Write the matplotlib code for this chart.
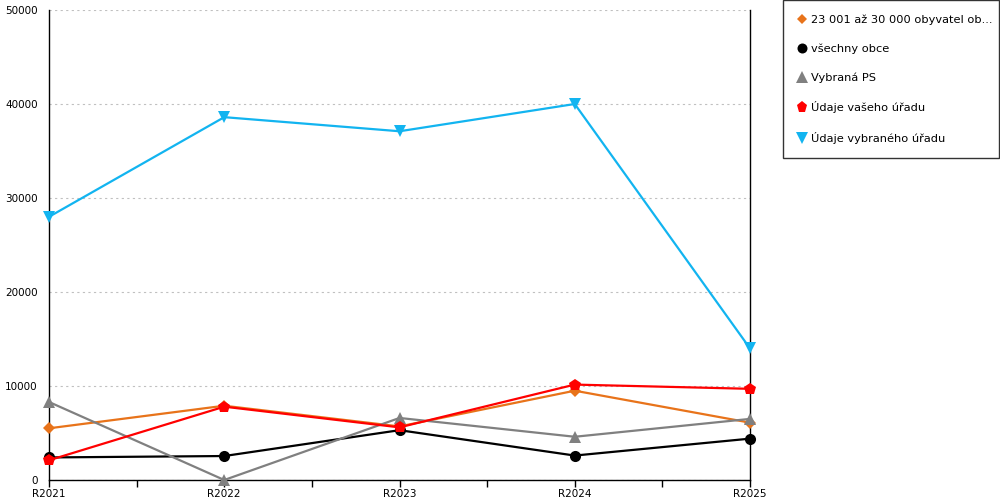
import matplotlib
matplotlib.use("Agg")
import matplotlib.pyplot as plt
from matplotlib.lines import Line2D

categories = ["R2021", "R2022", "R2023", "R2024", "R2025"]
orange_vals = [5500, 7900, 5700, 9500, 6100]
all_vals = [2400, 2550, 5300, 2600, 4400]
ps_vals = [8300, 0, 6600, 4600, 6500]
your_vals = [2100, 7800, 5600, 10150, 9700]
sel_vals = [28000, 38600, 37100, 40000, 14000]

series = [
    ("23 001 až 30 000 obyvatel ob...", orange_vals, "#e8731a", "D", 6),
    ("všechny obce", all_vals, "#000000", "o", 8),
    ("Vybraná PS", ps_vals, "#808080", "^", 9),
    ("Údaje vašeho úřadu", your_vals, "#ff0000", "p", 9),
    ("Údaje vybraného úřadu", sel_vals, "#12b4f0", "v", 9),
]

plt.rcParams['font.family'] = ['DejaVu Sans']
fig = plt.figure(figsize=(10, 5), dpi=100)
ax = fig.add_axes([0.049, 0.04, 0.701, 0.94])

x = list(range(len(categories)))
handles = []
for label, vals, color, marker, ms in series:
    ax.plot(x, vals, color=color, lw=1.6, marker=marker, markersize=ms,
            markeredgewidth=0, zorder=3, clip_on=False)
    handles.append(Line2D([], [], color=color, marker=marker, linestyle="none",
                          markersize=ms * 0.9, markeredgewidth=0, label=label))

ax.set_xlim(0, 4)
ax.set_ylim(0, 50000)
ax.set_yticks(range(0, 50001, 10000))
ax.set_yticklabels([str(v) for v in range(0, 50001, 10000)], fontsize=7.5)
ax.set_xticks(x)
ax.set_xticklabels(categories, fontsize=7.5)
ax.set_xticks([0.5, 1.5, 2.5, 3.5], minor=True)
ax.tick_params(axis="x", which="both", direction="out", length=5, width=1, pad=1.5, color="black")
ax.tick_params(axis="y", length=0, pad=8)
ax.grid(axis="y", linestyle=(0, (2, 3)), color="#c0c0c0", lw=0.8)
ax.set_axisbelow(True)
for s in ["left", "bottom", "right"]:
    ax.spines[s].set_color("black")
    ax.spines[s].set_linewidth(1)
ax.spines["top"].set_visible(False)

leg = fig.legend(handles=handles, loc="upper left",
                 bbox_to_anchor=(0.783, 0.688, 0.216, 0.312), mode="expand",
                 frameon=True, fancybox=False, fontsize=8.2, handlelength=0.8,
                 handletextpad=0.4, labelspacing=1.62, borderpad=1.25,
                 borderaxespad=0)
leg.get_frame().set_edgecolor("black")
leg.get_frame().set_linewidth(1)

fig.savefig("out.png", dpi=100)
